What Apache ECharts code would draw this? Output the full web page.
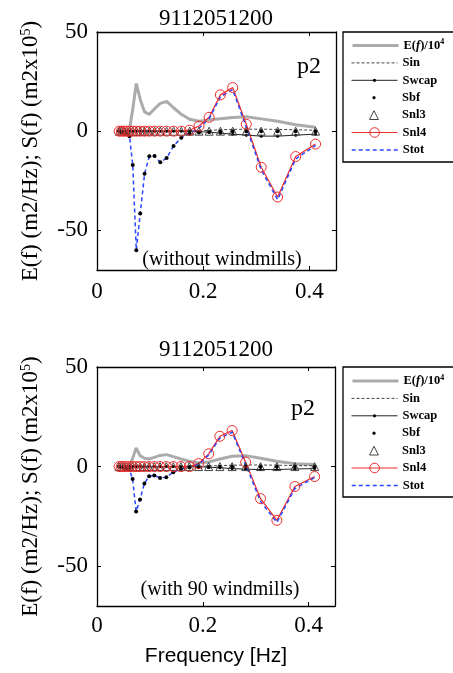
<!doctype html>
<html lang="en">
<head>
<meta charset="UTF-8">
<title>9112051200 source terms</title>
<script src="https://cdn.jsdelivr.net/npm/echarts@6.0.0/dist/echarts.min.js"></script>
<style>html,body{margin:0;padding:0;background:#fff;}</style>
</head>
<body>
<div id="main" style="width:453px;height:673px;"></div>
<script>
// frequency bins (Hz)
var freq = [0.0418, 0.0460, 0.0506, 0.0556, 0.0612, 0.0673, 0.0740, 0.0814, 0.0896, 0.0985,
            0.1084, 0.1192, 0.1311, 0.1442, 0.1587, 0.1745, 0.1920, 0.2112, 0.2323, 0.2555,
            0.2811, 0.3092, 0.3401, 0.3741, 0.4115];
var xTicks = [0, 0.2, 0.4];
var yTicks = [-50, 0, 50];

// top panel: without windmills
var eTop     = [0, 0, 0, 0, 1, 11, 24, 16, 9.7, 8.5, 11.3, 14, 15, 11.8, 8.5, 6, 5, 5.7, 6.3, 6.9, 7.3, 6.2, 5, 3.2, 2];
var sinTop   = [0, 0, 0, 0, 0, 0, 0, 0, 0, 0, 0, 0, 0, 0, 0, 0, 0.2, 0.4, 0.7, 0.9, 1, 1, 0.9, 0.7, 0.5];
var swcapTop = [0, 0, 0, 0, 0, 0, 0, 0, 0, 0, 0, 0, 0, 0, 0, 0, -0.2, -0.5, -1, -1.5, -2, -2.5, -2.5, -2, -1.5];
var sbfTop   = [0, -0.5, -1, -1.5, -2.5, -17, -60, -41.5, -21.5, -12.7, -12.5, -15.7, -13.5, -7.5, -3.3, -1.3, -0.7, -0.4, -0.2, -0.1, 0, 0, 0, 0, 0];
var snl3Top  = [0, 0, 0, 0, 0, 0, 0, 0, 0, 0, 0, 0, 0, 0, 0, 0, 0, 0, 0, 0, 0, 0, 0, 0, 0];
var snl4Top  = [0, 0, 0, 0, 0, 0, 0, 0, 0, 0, 0, 0, 0, 0, 0, 0.5, 2.6, 7, 18.3, 22, 3.5, -18.2, -33.2, -12.8, -6.5];
var stotTop  = [0, -0.5, -1, -1.5, -2.5, -17, -60, -41.5, -21.5, -12.7, -12.5, -15.7, -13.5, -7.5, -3.3, -1, 1.5, 6.3, 17.3, 21, 2, -19.5, -34.5, -14, -7.2];

// bottom panel: with 90 windmills
var eBot     = [0, 0, 0, 0, 0.5, 4, 9.3, 5.5, 4.2, 3.8, 4.6, 5.6, 6, 5, 3.8, 2.7, 1.8, 2.3, 3.8, 5.2, 5.5, 4.2, 2.7, 1.4, 1];
var sinBot   = [0, 0, 0, 0, 0, 0, 0, 0, 0, 0, 0, 0, 0, 0, 0, 0, 0.1, 0.3, 0.5, 0.7, 0.8, 0.8, 0.7, 0.5, 0.4];
var swcapBot = [0, 0, 0, 0, 0, 0, 0, 0, 0, 0, 0, 0, 0, 0, 0, 0, -0.1, -0.3, -0.6, -1, -1.3, -1.5, -1.5, -1.2, -1];
var sbfBot   = [0, -0.3, -0.6, -1, -1.5, -6.2, -22.5, -16.5, -8.5, -4.8, -4.5, -5.7, -5.3, -2.8, -1.2, -0.5, -0.3, -0.2, -0.1, 0, 0, 0, 0, 0, 0];
var snl3Bot  = [0, 0, 0, 0, 0, 0, 0, 0, 0, 0, 0, 0, 0, 0, 0, 0, 0, 0, 0, 0, 0, 0, 0, 0, 0];
var snl4Bot  = [0, 0, 0, 0, 0, 0, 0, 0, 0, 0, 0, 0, 0, 0, 0, 0, 1.5, 6.4, 15.2, 18.1, 2.2, -16.1, -27, -10, -5];
var stotBot  = [0, -0.3, -0.6, -1, -1.5, -6.2, -22.5, -16.5, -8.5, -4.8, -4.5, -5.7, -5.3, -2.8, -1.2, -0.3, 1, 5.8, 14.3, 17.3, 1, -17.5, -28, -11, -5.5];

var names = ['E(f)/10^4', 'Sin', 'Swcap', 'Sbf', 'Snl3', 'Snl4', 'Stot'];
var serif = 'Liberation Serif';

var chart = echarts.init(document.getElementById('main'));

function pairs(ys) {
    var out = [];
    for (var i = 0; i < freq.length; i++) out.push([freq[i], ys[i]]);
    return out;
}

var grids = [
    {left: 97, top: 32, width: 239, height: 238},
    {left: 97, top: 367, width: 238, height: 239}
];

var xAxes = [], yAxes = [], series = [];
grids.forEach(function (g, gi) {
    var line = {onZero: false, lineStyle: {color: '#000', width: 1.3}};
    var tickX = {inside: true, length: 4, customValues: xTicks, lineStyle: {color: '#000'}};
    var tickY = {inside: true, length: 4, customValues: yTicks, lineStyle: {color: '#000'}};
    var lab = {fontFamily: serif, fontSize: 23, color: '#000'};
    xAxes.push({
        gridIndex: gi, type: 'value', min: 0, max: 0.45,
        axisLine: line, axisTick: tickX, splitLine: {show: false},
        axisLabel: Object.assign({customValues: xTicks, margin: gi === 0 ? 10 : 8}, lab),
        name: gi === 1 ? 'Frequency [Hz]' : '', nameLocation: 'middle', nameGap: 40,
        nameTextStyle: {fontFamily: 'Liberation Sans', fontSize: 21, color: '#000'}
    });
    xAxes.push({
        gridIndex: gi, type: 'value', min: 0, max: 0.45, position: 'top',
        axisLine: line, axisTick: tickX, axisLabel: {show: false}, splitLine: {show: false}
    });
    yAxes.push({
        gridIndex: gi, type: 'value', min: -70, max: 50,
        axisLine: line, axisTick: tickY, splitLine: {show: false},
        axisLabel: Object.assign({customValues: yTicks, margin: 9}, lab),
        name: 'E(f) (m2/Hz); S(f) (m2x10{sup|5})', nameLocation: 'middle', nameGap: 55, nameRotate: 90,
        nameTextStyle: {fontFamily: serif, fontSize: 23, color: '#000',
            rich: {sup: {fontFamily: serif, fontSize: 14, color: '#000', verticalAlign: 'top'}}}
    });
    yAxes.push({
        gridIndex: gi, type: 'value', min: -70, max: 50, position: 'right',
        axisLine: line, axisTick: tickY, axisLabel: {show: false}, splitLine: {show: false}
    });
});

function addSeries(gi, d) {
    var base = {type: 'line', xAxisIndex: gi * 2, yAxisIndex: gi * 2, showAllSymbol: true, silent: true};
    var list = [
        {name: names[0], data: pairs(d.e), symbol: 'none',
            lineStyle: {color: '#ababab', width: 3}, itemStyle: {color: '#ababab'}},
        {name: names[1], data: pairs(d.sin), symbol: 'none',
            lineStyle: {color: '#444', width: 1, type: [3, 2]}, itemStyle: {color: '#444'}},
        {name: names[2], data: pairs(d.swcap), symbol: 'circle', symbolSize: 3,
            lineStyle: {color: '#222', width: 1}, itemStyle: {color: '#000'}},
        {name: names[3], data: pairs(d.sbf), symbol: 'circle', symbolSize: 4,
            lineStyle: {width: 0}, itemStyle: {color: '#000'}},
        {name: names[4], data: pairs(d.snl3), symbol: 'triangle', symbolSize: 8,
            lineStyle: {width: 0}, itemStyle: {color: 'rgba(0,0,0,0)', borderColor: '#444', borderWidth: 1}},
        {name: names[5], data: pairs(d.snl4), symbol: 'circle', symbolSize: 10,
            lineStyle: {color: '#ee2b2b', width: 1.2}, itemStyle: {color: 'rgba(255,255,255,0)', borderColor: '#ee2b2b', borderWidth: 1}},
        {name: names[6], data: pairs(d.stot), symbol: 'none',
            lineStyle: {color: '#2a45ff', width: 1.5, type: [4, 3]}, itemStyle: {color: '#2a45ff'}}
    ];
    list.forEach(function (s) { series.push(Object.assign({}, base, s)); });
}
addSeries(0, {e: eTop, sin: sinTop, swcap: swcapTop, sbf: sbfTop, snl3: snl3Top, snl4: snl4Top, stot: stotTop});
addSeries(1, {e: eBot, sin: sinBot, swcap: swcapBot, sbf: sbfBot, snl3: snl3Bot, snl4: snl4Bot, stot: stotBot});

// one legend per entry so each icon can get its own size
var iconH = [14, 14, 4, 4, 11, 12, 14];
var legends = [];
[45.5, 381].forEach(function (y0) {
    names.forEach(function (n, i) {
        var item = {name: n};
        if (n === 'E(f)/10^4' || n === 'Sin' || n === 'Stot') item.itemStyle = {opacity: 0};
        legends.push({
            data: [item], left: 351, top: y0 + i * 17.4 - 7.5, padding: 0,
            itemWidth: 46, itemHeight: iconH[i], selectedMode: false,
            lineStyle: {width: 'inherit'}, itemStyle: {borderWidth: 'inherit'},
            formatter: function (name) { return name === 'E(f)/10^4' ? 'E({it|f})/10{sup|4}' : name; },
            textStyle: {fontFamily: serif, fontWeight: 'bold', fontSize: 12.5, lineHeight: 15, color: '#000',
                rich: {
                    it: {fontFamily: serif, fontWeight: 'bold', fontStyle: 'italic', fontSize: 12.5, lineHeight: 15, color: '#000'},
                    sup: {fontFamily: serif, fontWeight: 'bold', fontSize: 8, lineHeight: 15, verticalAlign: 'top', color: '#000'}
                }}
        });
    });
});

function txt(x, y, s, size) {
    return {type: 'text', x: x, y: y, silent: true,
        style: {text: s, fontFamily: serif, fontSize: size, fill: '#000', align: 'center', verticalAlign: 'middle'}};
}

var option = {
    animation: false,
    backgroundColor: '#fff',
    grid: grids,
    xAxis: xAxes,
    yAxis: yAxes,
    legend: legends,
    series: series,
    graphic: [
        {type: 'rect', shape: {x: 343, y: 32, width: 120, height: 130}, style: {fill: 'none', stroke: '#000', lineWidth: 1.3}},
        {type: 'rect', shape: {x: 343, y: 367, width: 120, height: 130}, style: {fill: 'none', stroke: '#000', lineWidth: 1.3}},
        txt(216, 18.5, '9112051200', 23),
        txt(216, 350, '9112051200', 23),
        txt(309, 67, 'p2', 24),
        txt(303, 409, 'p2', 24),
        txt(222, 260, '(without windmills)', 20),
        txt(220, 590, '(with 90 windmills)', 20)
    ]
};

chart.setOption(option);
</script>
</body>
</html>
